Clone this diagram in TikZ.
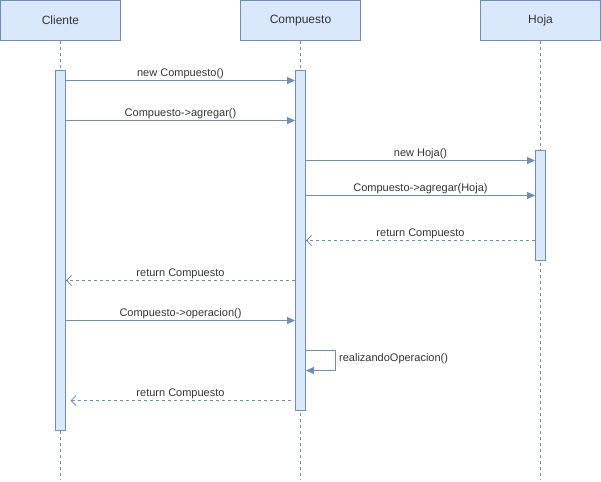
\documentclass[tikz,border=0pt]{standalone}
\usepackage{fontspec}
\setmainfont{Liberation Sans}
\usetikzlibrary{arrows.meta}
\definecolor{bfill}{HTML}{DAE8FC}
\definecolor{bline}{HTML}{6C8EBF}
\definecolor{txt}{HTML}{333333}
\begin{document}
\begin{tikzpicture}[x=1pt,y=-1pt,
  hdr/.style={draw=bline,fill=bfill,line width=0.9pt,minimum width=120pt,minimum height=40pt,inner sep=0pt,font=\fontsize{12}{14}\selectfont,text=txt},
  bar/.style={draw=bline,fill=bfill,line width=0.9pt,minimum width=10pt,inner sep=0pt},
  life/.style={draw=bline,line width=0.8pt,dash pattern=on 3pt off 3pt},
  call/.style={draw=bline,line width=0.9pt,-{Triangle[length=8pt,width=7pt]}},
  ret/.style={draw=bline,line width=0.8pt,dash pattern=on 3pt off 3pt,-{Straight Barb[length=5pt,width=10pt]}},
  lbl/.style={font=\fontsize{11}{13}\selectfont,text=txt,inner sep=1pt}]
\useasboundingbox (0,0) rectangle (601,481);
% headers
\node[hdr] (cli) at (60.5,20.5) {Cliente};
\node[hdr] (com) at (300.5,20.5) {Compuesto};
\node[hdr] (hoj) at (540.5,20.5) {Hoja};
% lifeline ends
\coordinate (cliend) at (60.5,480);
\coordinate (comend) at (300.5,480);
\coordinate (hojend) at (540.5,480);
\draw[life] (cli.south) -- (cliend);
\draw[life] (com.south) -- (comend);
\draw[life] (hoj.south) -- (hojend);
% activation bars
\node[bar,minimum height=360pt] (acli) at (60.5,250.5) {};
\node[bar,minimum height=340pt] (acom) at (300.5,240.5) {};
\node[bar,minimum height=110pt] (ahoj) at (540.5,205.5) {};
% messages
\draw[call] (acli.east |- 0,80.5) -- node[lbl,above] {new Compuesto()} (acom.west |- 0,80.5);
\draw[call] (acli.east |- 0,120.5) -- node[lbl,above] {Compuesto->agregar()} (acom.west |- 0,120.5);
\draw[call] (acom.east |- 0,160.5) -- node[lbl,above] {new Hoja()} (ahoj.west |- 0,160.5);
\draw[call] (acom.east |- 0,195.5) -- node[lbl,above] {Compuesto->agregar(Hoja)} (ahoj.west |- 0,195.5);
\draw[ret] (ahoj.west |- 0,240.5) -- node[lbl,above] {return Compuesto} (acom.east |- 0,240.5);
\draw[ret] (acom.west |- 0,280.5) -- node[lbl,above] {return Compuesto} (acli.east |- 0,280.5);
\draw[call] (acli.east |- 0,320.5) -- node[lbl,above] {Compuesto->operacion()} (acom.west |- 0,320.5);
\coordinate (selfa) at (335.5,350.5);
\coordinate (selfb) at (335.5,370.5);
\draw[call] (acom.east |- 0,350.5) -- (selfa) -- (selfb) -- (acom.east |- 0,370.5);
\node[lbl,anchor=west] (selflbl) at (338,359) {realizandoOperacion()};
\coordinate (r3s) at (290.5,400.5);
\coordinate (r3e) at (70.5,400.5);
\draw[ret] (r3s) -- node[lbl,above] {return Compuesto} (r3e);
\end{tikzpicture}
\end{document}
